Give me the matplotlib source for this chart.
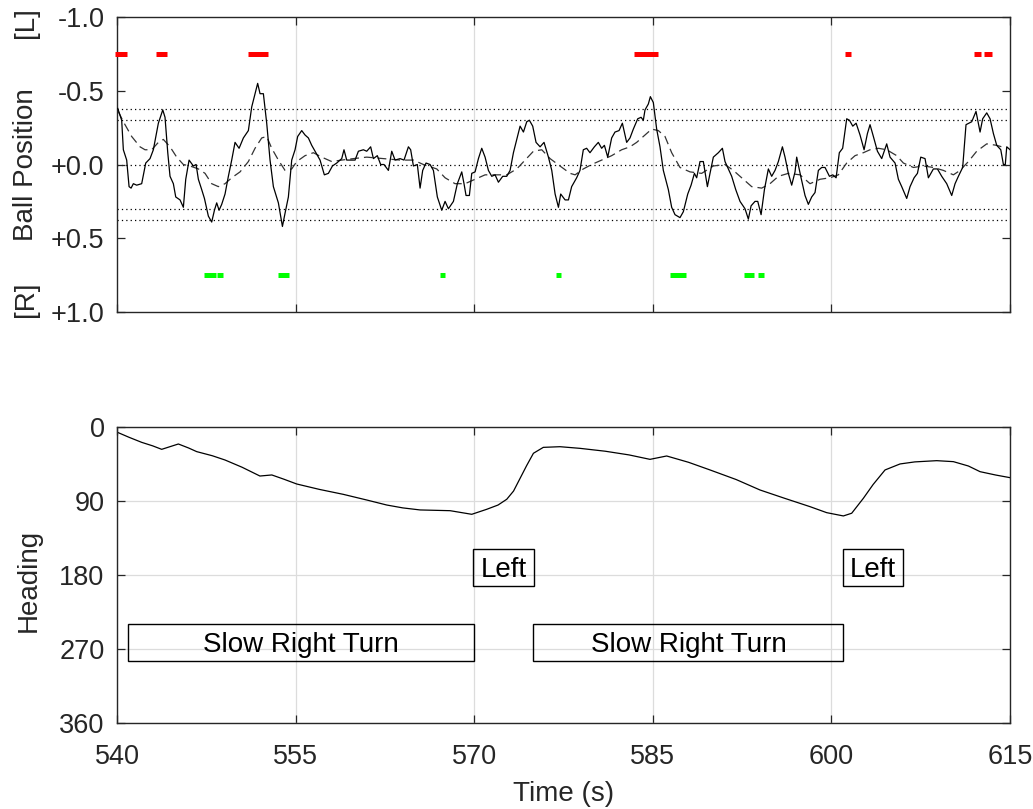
import matplotlib
matplotlib.use("Agg")
import matplotlib.pyplot as plt
from matplotlib.patches import Rectangle

plt.rcParams["font.family"] = ["Liberation Sans", "DejaVu Sans"]

# Ball position (solid)
ball_t = [540.06, 540.39, 540.53, 540.81, 541.01, 541.18, 541.37, 541.65, 542.07, 542.41,
          542.77, 543.05, 543.47, 543.84, 544.03, 544.26, 544.45, 544.73, 544.93, 545.29,
          545.57, 545.77, 546.05, 546.41, 546.64, 546.83, 547.11, 547.34, 547.67, 547.95,
          548.18, 548.37, 548.57, 548.79, 549.07, 549.35, 549.63, 549.91, 550.25, 550.61,
          551.03, 551.31, 551.59, 551.81, 552.01, 552.29, 552.57, 552.85, 553.13, 553.55,
          553.89, 554.11, 554.39, 554.67, 554.95, 555.17, 555.51, 555.79, 556.07, 556.35,
          556.63, 557.05, 557.41, 557.75, 558.09, 558.45, 558.87, 559.06, 559.29, 559.57,
          559.99, 560.27, 560.69, 560.97, 561.30, 561.53, 561.86, 562.14, 562.42, 562.79,
          563.07, 563.35, 563.77, 564.10, 564.47, 564.66, 564.89, 565.22, 565.45, 565.67,
          565.95, 566.29, 566.57, 566.90, 567.27, 567.55, 567.83, 568.25, 568.58, 568.95,
          569.14, 569.31, 569.59, 569.79, 570.07, 570.35, 570.63, 570.91, 571.19, 571.47,
          571.75, 572.03, 572.39, 572.73, 573.01, 573.29, 573.57, 573.85, 574.13, 574.41,
          574.63, 574.91, 575.19, 575.53, 575.86, 576.23, 576.51, 576.79, 577.07, 577.26,
          577.63, 577.91, 578.18, 578.60, 578.88, 579.16, 579.44, 579.72, 580.09, 580.42,
          580.70, 580.93, 581.21, 581.54, 581.82, 582.16, 582.44, 582.80, 583.08, 583.36,
          583.73, 584.01, 584.20, 584.34, 584.62, 584.79, 585.04, 585.32, 585.60, 585.88,
          586.30, 586.58, 586.86, 587.28, 587.56, 587.93, 588.21, 588.49, 588.68, 588.96,
          589.24, 589.58, 589.80, 590.08, 590.50, 590.84, 591.06, 591.40, 591.62, 591.96,
          592.32, 592.74, 593.02, 593.25, 593.58, 593.81, 594.09, 594.37, 594.70, 594.98,
          595.26, 595.54, 595.88, 596.10, 596.38, 596.66, 596.94, 597.08, 597.42, 597.78,
          598.06, 598.34, 598.62, 598.90, 599.18, 599.46, 599.83, 600.11, 600.39, 600.66,
          600.94, 601.28, 601.51, 601.79, 602.07, 602.40, 602.74, 603.02, 603.24, 603.52,
          603.86, 604.22, 604.64, 604.92, 605.34, 605.62, 605.90, 606.32, 606.60, 606.94,
          607.22, 607.50, 607.86, 608.14, 608.56, 608.90, 609.26, 609.68, 610.10, 610.38,
          610.66, 611.02, 611.30, 611.78, 612.14, 612.48, 612.70, 613.04, 613.32, 613.60,
          613.88, 614.22, 614.44, 614.60, 614.72, 615.00]
ball_pos = [-0.38, -0.30, -0.10, -0.03, 0.15, 0.16, 0.13, 0.14, 0.13, -0.01,
            -0.04, -0.10, -0.28, -0.37, -0.32, -0.08, 0.08, 0.13, 0.22, 0.24,
            0.29, 0.10, -0.03, 0.01, 0.00, 0.10, 0.17, 0.23, 0.35, 0.39,
            0.31, 0.26, 0.31, 0.27, 0.20, 0.08, -0.03, -0.15, -0.11, -0.18,
            -0.23, -0.39, -0.48, -0.55, -0.48, -0.48, -0.28, -0.03, 0.15, 0.26,
            0.42, 0.33, 0.22, -0.03, -0.10, -0.19, -0.23, -0.20, -0.18, -0.13,
            -0.09, -0.03, 0.07, 0.06, 0.01, -0.01, -0.04, -0.10, -0.03, -0.03,
            -0.03, -0.09, -0.10, -0.09, -0.12, -0.04, -0.06, 0.00, 0.00, 0.04,
            -0.09, -0.03, -0.04, -0.03, -0.12, -0.10, 0.01, 0.00, 0.16, 0.04,
            -0.01, 0.00, 0.04, 0.22, 0.31, 0.25, 0.30, 0.25, 0.13, 0.05,
            0.13, 0.21, 0.21, 0.06, 0.05, -0.04, -0.11, -0.05, 0.04, 0.08,
            0.07, 0.12, 0.08, 0.08, 0.04, -0.08, -0.17, -0.26, -0.22, -0.29,
            -0.30, -0.26, -0.15, -0.12, -0.15, -0.05, 0.04, 0.20, 0.29, 0.20,
            0.24, 0.24, 0.15, 0.09, 0.04, -0.10, -0.11, -0.08, -0.12, -0.15,
            -0.11, -0.13, -0.05, -0.18, -0.22, -0.23, -0.28, -0.15, -0.18, -0.24,
            -0.31, -0.32, -0.30, -0.37, -0.41, -0.46, -0.42, -0.24, -0.12, 0.04,
            0.17, 0.29, 0.34, 0.36, 0.32, 0.20, 0.14, 0.06, 0.09, -0.02,
            -0.02, 0.15, 0.06, -0.05, -0.08, -0.11, -0.02, 0.04, 0.08, 0.17,
            0.25, 0.30, 0.37, 0.28, 0.25, 0.25, 0.34, 0.17, 0.03, 0.08,
            0.04, -0.02, -0.12, -0.05, 0.06, 0.14, 0.05, -0.05, 0.08, 0.21,
            0.27, 0.22, 0.19, 0.04, 0.02, 0.02, 0.08, 0.07, 0.09, -0.08,
            -0.11, -0.31, -0.30, -0.26, -0.28, -0.20, -0.10, -0.21, -0.27, -0.19,
            -0.09, -0.04, -0.14, -0.05, -0.01, 0.10, 0.15, 0.23, 0.15, 0.09,
            0.06, -0.05, -0.04, 0.09, 0.03, 0.03, 0.08, 0.13, 0.21, 0.13,
            0.08, 0.02, -0.27, -0.29, -0.36, -0.22, -0.31, -0.35, -0.31, -0.21,
            -0.13, -0.10, 0.00, 0.00, -0.12, -0.10]

# Smoothed ball position (dashed)
smooth_t = [540.10, 540.53, 541.23, 541.93, 542.35, 542.91, 543.47, 543.89, 544.45, 545.01,
            545.57, 546.13, 546.83, 547.39, 547.95, 548.51, 549.07, 549.63, 550.33, 551.03,
            551.59, 552.15, 552.57, 552.99, 553.55, 554.11, 554.67, 555.09, 555.79, 556.49,
            557.19, 558.03, 558.87, 559.85, 560.97, 562.37, 563.77, 564.89, 565.73, 566.85,
            567.55, 568.39, 569.23, 570.07, 570.91, 571.89, 572.73, 573.57, 574.27, 574.97,
            575.67, 576.37, 577.20, 578.05, 578.47, 579.16, 579.86, 580.70, 581.54, 582.38,
            583.08, 583.64, 584.34, 584.90, 585.46, 586.02, 586.58, 587.28, 588.12, 589.10,
            590.08, 591.06, 591.76, 592.46, 593.30, 594.14, 594.84, 595.54, 596.38, 597.36,
            598.20, 599.04, 599.88, 600.58, 601.28, 601.98, 602.68, 603.24, 603.94, 604.64,
            605.48, 606.04, 606.88, 607.72, 608.56, 609.40, 610.24, 610.80, 611.50, 612.20,
            613.04, 613.88, 614.72]
smooth_pos = [-0.36, -0.29, -0.19, -0.12, -0.10, -0.10, -0.15, -0.17, -0.12, -0.05,
              0.00, 0.01, 0.03, 0.06, 0.13, 0.15, 0.13, 0.09, 0.05, -0.02,
              -0.11, -0.18, -0.19, -0.11, -0.03, 0.04, 0.03, -0.02, -0.06, -0.08,
              -0.05, -0.02, -0.03, -0.04, -0.05, -0.04, -0.03, -0.03, 0.00, 0.03,
              0.09, 0.13, 0.13, 0.10, 0.07, 0.07, 0.07, 0.03, -0.03, -0.09,
              -0.10, -0.04, 0.01, 0.06, 0.07, 0.03, 0.00, -0.03, -0.06, -0.10,
              -0.12, -0.15, -0.20, -0.24, -0.23, -0.19, -0.08, 0.02, 0.05, 0.06,
              0.01, 0.00, 0.04, 0.09, 0.15, 0.16, 0.13, 0.08, 0.06, 0.07,
              0.13, 0.10, 0.09, 0.07, -0.01, -0.06, -0.08, -0.10, -0.11, -0.10,
              -0.06, -0.01, 0.02, 0.01, 0.02, 0.04, 0.07, 0.04, -0.02, -0.09,
              -0.14, -0.13, -0.11]

# Left / right marker intervals (start, end) in seconds
left_marks = [(539.8, 540.8), (543.3, 544.2), (551.0, 552.7), (583.4, 585.4),
              (601.1, 601.6), (612.0, 612.6), (612.8, 613.5)]
right_marks = [(547.3, 548.3), (548.4, 548.9), (553.5, 554.4), (567.1, 567.55),
               (576.85, 577.3), (586.45, 587.75), (592.65, 593.5), (593.85, 594.35)]
thresholds = [-0.375, -0.3, 0.0, 0.3, 0.375]

# Heading
head_t = [540.1, 541.0, 542.07, 543.0, 543.75, 545.15, 546.0, 546.69, 548.0, 549.07,
          550.5, 552.0, 553.0, 554.0, 555.09, 557.0, 559.0, 561.0, 562.65, 564.0,
          565.45, 567.97, 569.79, 571.05, 572.0, 572.73, 573.3, 573.85, 574.4, 574.97,
          575.8, 577.2, 578.88, 581.0, 583.0, 584.76, 586.16, 588.0, 589.8, 592.0,
          594.0, 596.0, 598.2, 599.6, 601.0, 601.7, 602.68, 603.5, 604.5, 605.76,
          607.0, 608.84, 610.24, 611.5, 612.48, 613.8, 615.0]
heading = [6.9, 12.5, 18.7, 23.0, 27.2, 20.7, 25.5, 30.0, 35.0, 40.2,
           49.0, 59.7, 58.4, 63.5, 69.4, 76.0, 82.0, 89.0, 95.0, 98.5,
           101.0, 101.9, 106.3, 100.2, 95.0, 88.0, 78.0, 62.5, 47.0, 32.0,
           24.8, 24.0, 26.0, 29.5, 34.0, 39.4, 35.3, 43.0, 52.3, 64.0,
           76.7, 86.5, 97.0, 104.3, 108.3, 105.0, 86.8, 70.0, 52.3, 45.0,
           42.5, 41.0, 42.2, 47.5, 54.4, 58.5, 61.7]

# Manoeuvre boxes: (label, t_start, t_end, heading_top, heading_bottom)
events = [("Left", 569.93, 575.03, 149, 194),
          ("Left", 600.95, 605.99, 149, 194),
          ("Slow Right Turn", 540.95, 570.0, 240, 284.5),
          ("Slow Right Turn", 574.97, 601.0, 240, 284.5)]

x_ticks = [540, 555, 570, 585, 600, 615]
pos_ticks = [-1.0, -0.5, 0.0, 0.5, 1.0]
pos_labels = ["-1.0", "-0.5", "+0.0", "+0.5", "+1.0"]
head_ticks = [0, 90, 180, 270, 360]

AX_COL = "#262626"
GRID_COL = "#dcdcdc"
TICK_FS = 19.5
LABEL_FS = 20

fig = plt.figure(figsize=(10.33, 8.09), dpi=100)
ax1 = fig.add_axes([0.1133, 0.6143, 0.8645, 0.3647])
ax2 = fig.add_axes([0.1133, 0.1067, 0.8645, 0.3655])


def style_axes(ax):
    for s in ax.spines.values():
        s.set_color(AX_COL)
        s.set_linewidth(1.0)
    ax.tick_params(direction="in", length=6, width=0.9, colors=AX_COL,
                   top=True, right=True, labelsize=TICK_FS)
    ax.tick_params(axis="y", pad=9)
    ax.tick_params(axis="x", pad=15)
    ax.set_xlim(540, 615)
    ax.set_xticks(x_ticks)


# --- top: ball position ---
style_axes(ax1)
ax1.set_ylim(1.0, -1.0)
ax1.set_yticks(pos_ticks)
ax1.set_yticklabels(pos_labels)
ax1.tick_params(labelbottom=False)
for xv in x_ticks[1:-1]:
    ax1.axvline(xv, color=GRID_COL, lw=0.9, zorder=0)
for th in thresholds:
    ax1.axhline(th, color="black", lw=0.9, ls=(0, (1, 2.5)), zorder=1)
ax1.plot(smooth_t, smooth_pos, color="#333333", lw=0.9, ls=(0, (7, 4)), zorder=2)
ax1.plot(ball_t, ball_pos, color="black", lw=0.9, zorder=3)
for a, b in left_marks:
    ax1.plot([a, b], [-0.75, -0.75], color="#ff0000", lw=3.6,
             solid_capstyle="butt", clip_on=False, zorder=4)
for a, b in right_marks:
    ax1.plot([a, b], [0.75, 0.75], color="#00ff00", lw=3.6,
             solid_capstyle="butt", clip_on=False, zorder=4)
lab_x = -0.087
ax1.set_ylabel("Ball Position", fontsize=LABEL_FS, color=AX_COL)
ax1.yaxis.set_label_coords(lab_x, 0.5)
for yy, s in [(0.98, "[L]"), (0.045, "[R]")]:
    ax1.text(lab_x, yy, s, rotation=90, rotation_mode="anchor",
             transform=ax1.transAxes, ha="center", va="bottom",
             fontsize=LABEL_FS, color=AX_COL)

# --- bottom: heading ---
style_axes(ax2)
ax2.set_ylim(360, 0)
ax2.set_yticks(head_ticks)
ax2.grid(True, color=GRID_COL, lw=0.9)
ax2.set_axisbelow(True)
ax2.plot(head_t, heading, color="black", lw=0.9)
for label, t0, t1, h0, h1 in events:
    ax2.add_patch(Rectangle((t0, h0), t1 - t0, h1 - h0, fill=False,
                            edgecolor="black", lw=1.0, zorder=3))
    ax2.text((t0 + t1) / 2, (h0 + h1) / 2 + 3, label, ha="center", va="center",
             fontsize=LABEL_FS, color="black", zorder=4)
ax2.set_ylabel("Heading", fontsize=LABEL_FS, color=AX_COL)
ax2.yaxis.set_label_coords(-0.084, 0.48)
ax2.set_xlabel("Time (s)", fontsize=LABEL_FS, color=AX_COL, labelpad=8)

fig.savefig("out.png", dpi=100)
